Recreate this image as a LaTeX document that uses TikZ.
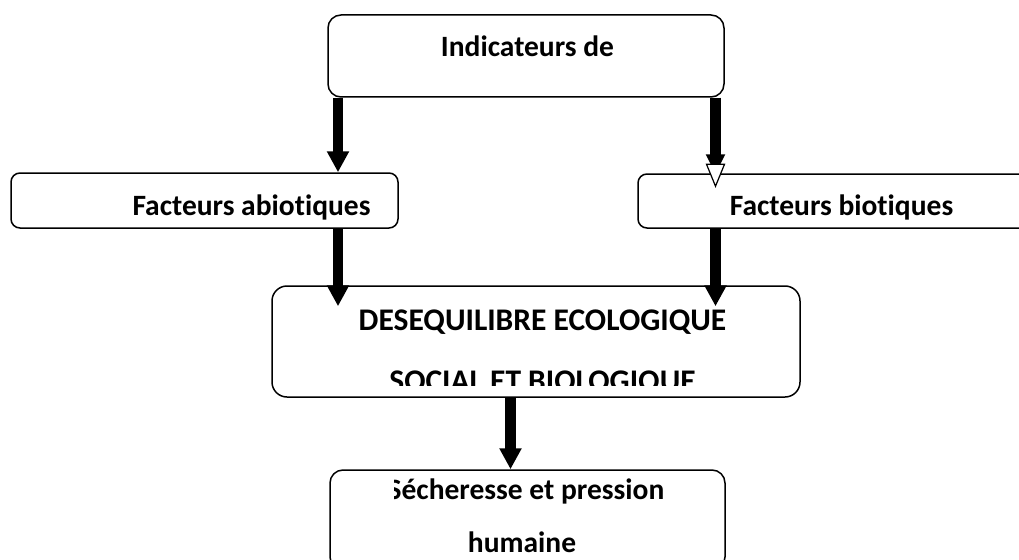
\documentclass[tikz,border=0pt]{standalone}
\usepackage{fontspec}
\setmainfont{Carlito}[Ligatures=NoCommon]
\usetikzlibrary{arrows.meta,calc}
\begin{document}
\begin{tikzpicture}[x=1pt,y=-1pt,
  box/.style={draw, line width=1.5pt, inner sep=0pt},
  lbl/.style={font=\bfseries\fontsize{29.5}{35}\selectfont, anchor=base, inner sep=0pt},
  biglbl/.style={font=\bfseries\fontsize{31.5}{38}\selectfont, anchor=base, inner sep=0pt},
  bigarrow/.style={line width=10.5pt, -{Triangle[width=21pt,length=21pt]}},
  hollowtip/.style={draw, line width=1.2pt, fill=white, line join=miter}
]
\useasboundingbox (0,0) rectangle (1019,559);
\clip (0,0) rectangle (1019,559);

% boxes
\node[box, rounded corners=13pt, minimum width=396pt, minimum height=82pt] (topbox) at (526,56) {};
\node[box, rounded corners=9pt, minimum width=387pt, minimum height=55pt] (leftbox) at (204.5,200.5) {};
\node[box, rounded corners=9pt, minimum width=392pt, minimum height=54pt] (rightbox) at (834,201) {};
\node[box, rounded corners=15pt, minimum width=528pt, minimum height=111pt] (midbox) at (536,341.5) {};
\node[box, rounded corners=13pt, minimum width=395pt, minimum height=100pt] (botbox) at (527.5,520) {};

% texts
\node[lbl] (t1) at (527.5,57) {Indicateurs de};
\node[lbl] (t2) at (251.5,215) {Facteurs abiotiques};
\node[lbl] (t3) at (841.5,215) {Facteurs biotiques};
\node[biglbl] (t4) at (542.5,330) {DESEQUILIBRE ECOLOGIQUE};
\begin{scope}
  \clip (272,286) rectangle (800,385);
  \node[biglbl] (t5) at (542.5,391) {SOCIAL ET BIOLOGIQUE};
\end{scope}
\begin{scope}
  \clip (394,470) rectangle (725,520);
  \node[lbl] (t6) at (526,499) {Sécheresse et pression};
\end{scope}
\node[lbl] (t7) at (522,552) {humaine};

% arrow columns
\coordinate (xl) at (338,0);
\coordinate (xr) at (715.5,0);
\coordinate (xm) at (510.5,0);

\draw[bigarrow] (xl |- topbox.south) -- (xl |- leftbox.north);
\draw[bigarrow] (xl |- leftbox.south) -- ([yshift=-21pt]xl |- midbox.north);
\draw[line width=11pt, -{Triangle[width=18pt,length=20pt]}] (xr |- topbox.south) -- ([yshift=-1pt]xr |- rightbox.north);
\draw[hollowtip] ([yshift=9pt]xr |- rightbox.north) ++(-9,0) -- ++(18,0) -- ++(-9,22) -- cycle;
\draw[bigarrow] (xr |- rightbox.south) -- ([yshift=-21pt]xr |- midbox.north);
\draw[bigarrow] (xm |- midbox.south) -- (xm |- botbox.north);
\end{tikzpicture}
\end{document}
